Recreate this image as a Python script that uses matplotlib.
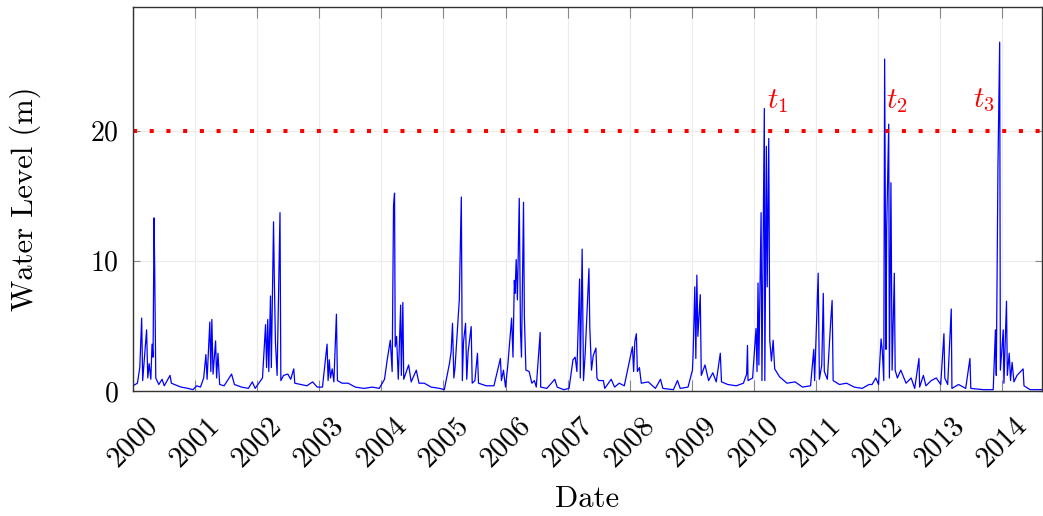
import pandas as pd
import numpy as np
import matplotlib
matplotlib.use("Agg")
import matplotlib.pyplot as plt
import matplotlib.dates as mdates

# Water level readings (peaks and troughs)
dates = [
    "2000-01-01", "2000-01-27", "2000-02-10", "2000-02-21", "2000-02-27", "2000-03-21", "2000-03-28",
    "2000-04-05", "2000-04-15", "2000-04-22", "2000-04-28", "2000-05-04", "2000-05-08", "2000-05-14",
    "2000-06-01", "2000-06-20", "2000-07-03", "2000-07-20", "2000-08-06", "2000-08-14", "2000-09-01",
    "2000-10-10", "2000-11-20", "2000-12-19",
    "2001-01-10", "2001-02-01", "2001-02-20", "2001-03-05", "2001-03-12", "2001-03-28", "2001-04-03",
    "2001-04-09", "2001-04-16", "2001-05-01", "2001-05-07", "2001-05-15", "2001-05-25", "2001-06-20",
    "2001-07-10", "2001-08-03", "2001-08-20", "2001-10-01", "2001-11-10", "2001-12-03", "2001-12-20",
    "2002-02-01", "2002-02-19", "2002-02-25", "2002-03-04", "2002-03-10", "2002-03-20", "2002-03-25",
    "2002-04-07", "2002-04-12", "2002-04-18", "2002-04-28", "2002-05-15", "2002-05-20", "2002-06-05",
    "2002-06-30", "2002-07-17", "2002-08-04", "2002-08-10", "2002-09-15", "2002-10-20", "2002-11-23",
    "2002-12-20",
    "2003-01-20", "2003-02-16", "2003-02-22", "2003-03-01", "2003-03-08", "2003-03-18", "2003-03-28",
    "2003-04-12", "2003-04-18", "2003-05-15", "2003-06-20", "2003-08-01", "2003-09-20", "2003-11-10",
    "2003-12-20",
    "2004-01-20", "2004-02-05", "2004-02-23", "2004-03-05", "2004-03-13", "2004-03-19", "2004-03-23",
    "2004-03-31", "2004-04-10", "2004-04-24", "2004-04-28", "2004-05-07", "2004-05-12", "2004-06-10",
    "2004-06-25", "2004-07-25", "2004-08-10", "2004-09-10", "2004-10-20", "2004-12-10",
    "2005-01-06", "2005-02-05", "2005-02-15", "2005-02-23", "2005-03-03", "2005-03-10", "2005-04-04",
    "2005-04-16", "2005-04-22", "2005-04-29", "2005-05-11", "2005-05-18", "2005-05-26", "2005-06-13",
    "2005-06-19", "2005-07-05", "2005-07-20", "2005-07-26", "2005-09-10", "2005-10-25", "2005-12-02",
    "2005-12-08", "2005-12-20",
    "2006-01-01", "2006-01-14", "2006-02-06", "2006-02-14", "2006-02-22", "2006-02-26", "2006-03-05",
    "2006-03-12", "2006-03-23", "2006-03-30", "2006-04-05", "2006-04-17", "2006-04-22", "2006-05-01",
    "2006-05-20", "2006-06-05", "2006-06-20", "2006-07-01", "2006-07-24", "2006-07-27", "2006-09-01",
    "2006-10-18", "2006-11-01", "2006-12-10",
    "2007-01-10", "2007-02-02", "2007-02-15", "2007-02-25", "2007-03-13", "2007-03-17", "2007-03-28",
    "2007-04-05", "2007-04-15", "2007-05-07", "2007-05-12", "2007-05-22", "2007-06-01", "2007-06-17",
    "2007-06-23", "2007-07-03", "2007-07-31", "2007-08-08", "2007-09-15", "2007-10-05", "2007-11-01",
    "2007-12-01",
    "2008-01-18", "2008-01-25", "2008-02-01", "2008-02-10", "2008-02-16", "2008-02-28", "2008-03-10",
    "2008-04-20", "2008-06-01", "2008-07-01", "2008-07-15", "2008-09-15", "2008-10-09", "2008-10-25",
    "2008-12-10",
    "2009-01-05", "2009-01-09", "2009-01-19", "2009-01-25", "2009-01-31", "2009-02-06", "2009-02-20",
    "2009-02-26", "2009-03-20", "2009-04-10", "2009-05-05", "2009-05-25", "2009-06-18", "2009-06-25",
    "2009-08-01", "2009-09-20", "2009-11-01", "2009-11-20", "2009-11-25", "2009-11-28", "2009-12-25",
    "2010-01-14", "2010-01-20", "2010-01-26", "2010-01-31", "2010-02-13", "2010-02-18", "2010-03-04",
    "2010-03-07", "2010-03-16", "2010-03-21", "2010-03-30", "2010-04-05", "2010-04-15", "2010-04-25",
    "2010-05-04", "2010-06-01", "2010-07-15", "2010-09-01", "2010-10-15", "2010-12-01", "2010-12-20",
    "2010-12-25",
    "2011-01-15", "2011-01-22", "2011-02-05", "2011-02-14", "2011-02-20", "2011-03-10", "2011-03-30",
    "2011-04-07", "2011-04-13", "2011-05-20", "2011-07-01", "2011-08-15", "2011-10-01", "2011-11-10",
    "2011-11-28", "2011-12-20",
    "2012-01-05", "2012-01-20", "2012-01-27", "2012-02-05", "2012-02-10", "2012-02-14", "2012-02-18",
    "2012-02-22", "2012-03-05", "2012-03-09", "2012-03-18", "2012-03-25", "2012-04-07", "2012-04-12",
    "2012-04-25", "2012-05-15", "2012-06-15", "2012-07-15", "2012-08-05", "2012-08-30", "2012-09-03",
    "2012-09-25", "2012-10-10", "2012-11-10", "2012-12-10",
    "2013-01-05", "2013-01-24", "2013-01-29", "2013-02-15", "2013-03-08", "2013-03-12", "2013-04-20",
    "2013-06-01", "2013-06-26", "2013-07-01", "2013-09-15", "2013-11-10", "2013-11-23", "2013-11-28",
    "2013-12-08", "2013-12-18", "2013-12-22",
    "2014-01-08", "2014-01-12", "2014-01-27", "2014-02-01", "2014-02-12", "2014-02-20", "2014-03-01",
    "2014-03-12", "2014-03-30", "2014-05-05", "2014-05-10", "2014-06-15", "2014-08-24",
]
water_level = [
    0.4, 0.6, 1.8, 5.6, 0.8, 4.7, 1.0,
    2.1, 0.9, 3.6, 2.6, 13.3, 8.9, 1.0,
    0.5, 0.9, 0.4, 0.8, 1.2, 0.6, 0.5,
    0.3, 0.2, 0.1,
    0.4, 0.3, 1.0, 2.8, 0.9, 5.3, 1.5,
    5.5, 1.3, 3.85, 1.0, 2.9, 0.5, 0.4,
    0.8, 1.3, 0.5, 0.3, 0.2, 0.7, 0.2,
    1.0, 5.1, 1.8, 5.5, 1.5, 7.3, 1.8,
    13.0, 8.3, 3.8, 1.2, 13.7, 0.8, 1.2,
    1.3, 0.9, 1.7, 0.6, 0.5, 0.4, 0.7,
    0.3,
    0.3, 3.6, 0.8, 2.4, 1.0, 1.7, 0.7,
    5.9, 0.8, 0.6, 0.6, 0.3, 0.2, 0.3,
    0.2,
    0.9, 2.4, 3.9, 1.5, 14.2, 15.2, 3.4,
    4.2, 0.9, 6.6, 1.2, 6.8, 0.9, 2.0,
    0.7, 1.6, 0.6, 0.6, 0.3, 0.2,
    0.1, 2.1, 3.0, 5.2, 1.0, 1.8, 7.0,
    14.9, 0.8, 3.8, 5.2, 0.9, 3.0, 4.95,
    0.6, 0.8, 2.9, 0.6, 0.4, 0.4, 2.5,
    0.8, 1.6,
    0.3, 1.9, 5.6, 2.6, 8.5, 7.5, 10.1,
    7.0, 14.8, 4.7, 2.6, 14.5, 5.7, 1.6,
    1.5, 0.6, 0.8, 0.3, 4.5, 0.3, 0.2,
    0.9, 0.3, 0.1,
    0.2, 2.4, 2.6, 1.5, 8.6, 1.0, 10.9,
    0.8, 2.9, 9.4, 4.9, 1.6, 2.7, 3.3,
    1.0, 0.8, 0.8, 0.2, 0.9, 0.3, 0.6,
    0.4,
    3.4, 1.5, 3.8, 4.4, 1.5, 1.8, 0.6,
    0.7, 0.2, 0.9, 0.2, 0.1, 0.8, 0.2,
    0.3,
    1.6, 2.8, 8.0, 2.5, 8.9, 4.2, 7.4,
    1.2, 2.0, 0.8, 1.4, 0.7, 2.9, 0.7,
    0.5, 0.4, 0.6, 1.3, 3.5, 0.8, 1.0,
    4.8, 1.5, 8.3, 2.0, 13.7, 0.8, 21.7,
    0.8, 18.8, 8.0, 19.4, 3.9, 2.3, 3.9,
    1.7, 1.1, 0.6, 0.7, 0.3, 0.4, 3.2,
    0.8,
    9.05, 0.9, 2.0, 7.5, 1.5, 0.9, 5.45,
    6.95, 0.8, 0.5, 0.6, 0.3, 0.2, 0.5,
    0.5, 1.0,
    0.5, 4.0, 3.15, 0.8, 25.5, 13.5, 3.2,
    12.4, 20.5, 1.0, 16.0, 1.6, 9.05, 1.6,
    1.0, 1.6, 0.6, 1.0, 0.2, 2.5, 0.3,
    1.2, 0.4, 0.8, 1.0,
    0.5, 4.4, 1.0, 0.5, 6.3, 0.2, 0.5,
    0.2, 2.5, 0.2, 0.1, 0.1, 4.7, 1.2,
    17.4, 26.8, 1.6,
    4.7, 0.6, 6.9, 1.2, 2.9, 0.8, 2.2,
    0.7, 1.2, 1.7, 0.4, 0.1, 0.1,
]

threshold = 20
events = ["$t_1$", "$t_2$", "$t_3$"]
event_dates = ["2010-03-18", "2012-02-16", "2013-11-18"]
event_levels = [22.3, 22.3, 22.3]
event_align = ["left", "left", "right"]

x_start, x_end = "2000-01-01", "2014-08-24"

plt.rcParams['font.family'] = ['cmr10', 'DejaVu Serif']
plt.rcParams['mathtext.fontset'] = 'cm'
plt.rcParams['axes.formatter.use_mathtext'] = True
plt.rcParams['font.size'] = 20

fig = plt.figure(figsize=(10.43, 5.16), dpi=100)
ax = fig.add_axes([133 / 1043, 125 / 516, 909 / 1043, 384 / 516])

t = pd.to_datetime(dates)
ax.plot(t, water_level, color='blue', lw=0.9)
ax.axhline(threshold, color='red', lw=2.9, linestyle=(0, (1, 3.15)))

for lab, d, v, ha in zip(events, event_dates, event_levels, event_align):
    ax.text(pd.Timestamp(d), v, lab, color='red', fontsize=21, ha=ha, va='center')

ax.set_xlim(pd.Timestamp(x_start), pd.Timestamp(x_end))
ax.set_ylim(0, 29.5)
ax.set_yticks([0, 10, 20])
ax.xaxis.set_major_locator(mdates.YearLocator())
ax.xaxis.set_major_formatter(mdates.DateFormatter('%Y'))

ax.grid(True, color='#ececec', lw=0.8)
ax.set_axisbelow(True)
ax.tick_params(axis='both', direction='in', color='#888888', top=True, right=True)
ax.tick_params(axis='x', length=8, pad=15, labelsize=21)
ax.tick_params(axis='y', length=5, pad=10, labelsize=20)
for lbl in ax.get_xticklabels():
    lbl.set_rotation(45)
    lbl.set_ha('center')
    lbl.set_va('top')
for s in ax.spines.values():
    s.set_color('#333333')
    s.set_linewidth(1.0)

ax.set_xlabel('Date', fontsize=22, va='center')
ax.set_ylabel('Water Level (m)', fontsize=22, va='center')
ax.xaxis.set_label_coords(0.5, -0.283)
ax.yaxis.set_label_coords(-0.119, 0.5)

fig.savefig('out.png', dpi=100)
